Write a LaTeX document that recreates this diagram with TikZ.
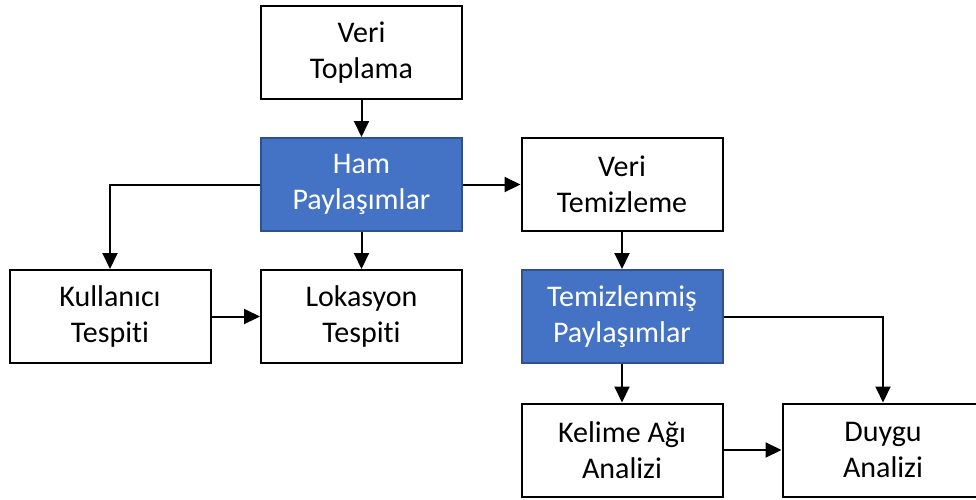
\documentclass[tikz,border=0pt]{standalone}
\usepackage{fontspec}
\setmainfont{Carlito}[Ligatures={NoCommon}]
\usetikzlibrary{arrows.meta}
\definecolor{postblue}{HTML}{4472C4}
\definecolor{postedge}{HTML}{2F528F}

\begin{document}
\begin{tikzpicture}[x=1pt,y=-1pt,>={Triangle[length=16pt,width=15pt]},line width=2pt,
		main node/.style = {rectangle,draw,line width=2pt,minimum width=201pt,minimum height=93pt,
			inner sep=0pt,align=center,font=\fontsize{30}{36}\selectfont},
		blue node/.style = {main node,fill=postblue,draw=postedge,text=white}]
		
		\clip (0,0) rectangle (976,499);
		
		\node[main node] (1) at (361.5,52.5) {Veri\\Toplama};
		\node[blue node] (2) at (361.5,184.5) {Ham\\Paylaşımlar};
		\node[main node] (3) at (622,184.5) {Veri\\Temizleme};
		\node[main node] (4) at (110,316.5) {Kullanıcı\\Tespiti};
		\node[main node] (5) at (361.5,316.5) {Lokasyon\\Tespiti};
		\node[blue node] (6) at (622,316.5) {Temizlenmiş\\Paylaşımlar};
		\node[main node] (7) at (622,450) {Kelime Ağı\\Analizi};
		\node[main node] (8) at (883,450) {Duygu\\Analizi};
		
		\path[->]
		(1) edge (2)
		(2) edge (3)
		(2) edge (5)
		(4) edge (5)
		(3) edge (6)
		(6) edge (7)
		(7) edge (8);
		\draw[->] (2.west) -| (4.north);
		\draw[->] (6.east) -| (8.north);
		\end{tikzpicture}
\end{document}
